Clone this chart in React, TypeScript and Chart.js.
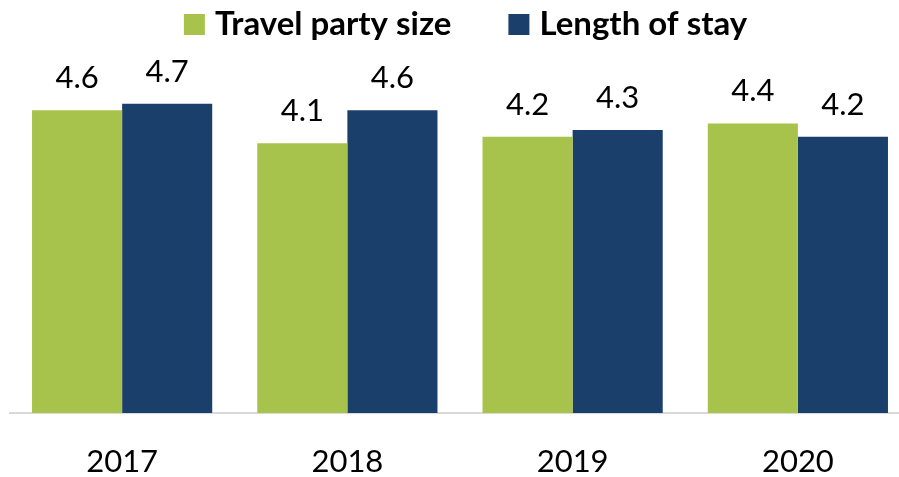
import React, { useEffect, useRef } from "react";
import { Chart, registerables } from "chart.js";

Chart.register(...registerables);

const categories = ["2017", "2018", "2019", "2020"];
const seriesNames = ["Travel party size", "Length of stay"];
const travelPartySize = [4.6, 4.1, 4.2, 4.4];
const lengthOfStay = [4.7, 4.6, 4.3, 4.2];
const colors = ["#A8C34B", "#1B3F6B"];

const FONT = "Lato, 'Open Sans', sans-serif";

const valueLabels = {
  id: "valueLabels",
  afterDatasetsDraw(chart: any) {
    const ctx = chart.ctx;
    ctx.save();
    ctx.font = `31px ${FONT}`;
    ctx.fillStyle = "#000";
    ctx.textAlign = "center";
    ctx.textBaseline = "alphabetic";
    chart.data.datasets.forEach((ds: any, i: number) => {
      const meta = chart.getDatasetMeta(i);
      meta.data.forEach((bar: any, j: number) => {
        ctx.fillText(Number(ds.data[j]).toFixed(1), bar.x, bar.y - 22);
      });
    });
    ctx.restore();
  },
};

const topLegend = {
  id: "topLegend",
  afterDraw(chart: any) {
    const ctx = chart.ctx;
    ctx.save();
    ctx.font = `bold 33px ${FONT}`;
    const box = 21;
    const gapText = 10;
    const gapItem = 57;
    const items = chart.data.datasets.map((ds: any) => ({
      label: ds.label,
      color: ds.backgroundColor,
      w: ctx.measureText(ds.label).width,
    }));
    const total =
      items.reduce((s: number, it: any) => s + box + gapText + it.w, 0) +
      gapItem * (items.length - 1);
    let x = 465.5 - total / 2;
    ctx.textBaseline = "alphabetic";
    ctx.textAlign = "left";
    items.forEach((it: any) => {
      ctx.fillStyle = it.color;
      ctx.fillRect(x, 14, box, box);
      x += box + gapText;
      ctx.fillStyle = "#000";
      ctx.fillText(it.label, x, 35);
      x += it.w + gapItem;
    });
    ctx.restore();
  },
};

export default function App() {
  const ref = useRef<HTMLCanvasElement>(null);
  useEffect(() => {
    document.body.style.margin = "0";
    document.body.style.overflow = "hidden";
    const chart = new Chart(ref.current!, {
      type: "bar",
      data: {
        labels: categories,
        datasets: [
          { label: seriesNames[0], data: travelPartySize, backgroundColor: colors[0] },
          { label: seriesNames[1], data: lengthOfStay, backgroundColor: colors[1] },
        ],
      },
      options: {
        animation: false,
        responsive: false,
        maintainAspectRatio: false,
        layout: { padding: { top: 84, left: 9.5, right: 1.5, bottom: 0 } },
        plugins: { legend: { display: false }, tooltip: { enabled: false } },
        datasets: { bar: { categoryPercentage: 0.8, barPercentage: 1.0 } },
        scales: {
          x: {
            grid: { display: false, drawTicks: false },
            border: { display: true, color: "#D9D9D9", width: 2 },
            ticks: { font: { family: FONT, size: 31 }, color: "#000", padding: 30 },
            afterFit: (s: any) => {
              s.height = 64;
            },
          },
          y: {
            display: false,
            min: 0,
            max: 5,
          },
        },
      },
      plugins: [valueLabels, topLegend],
    });
    return () => chart.destroy();
  }, []);
  return (
    <div style={{ position: "absolute", left: 0, top: 0, width: 912, height: 477 }}>
      <canvas ref={ref} width={912} height={477} style={{ width: 912, height: 477 }} />
    </div>
  );
}
